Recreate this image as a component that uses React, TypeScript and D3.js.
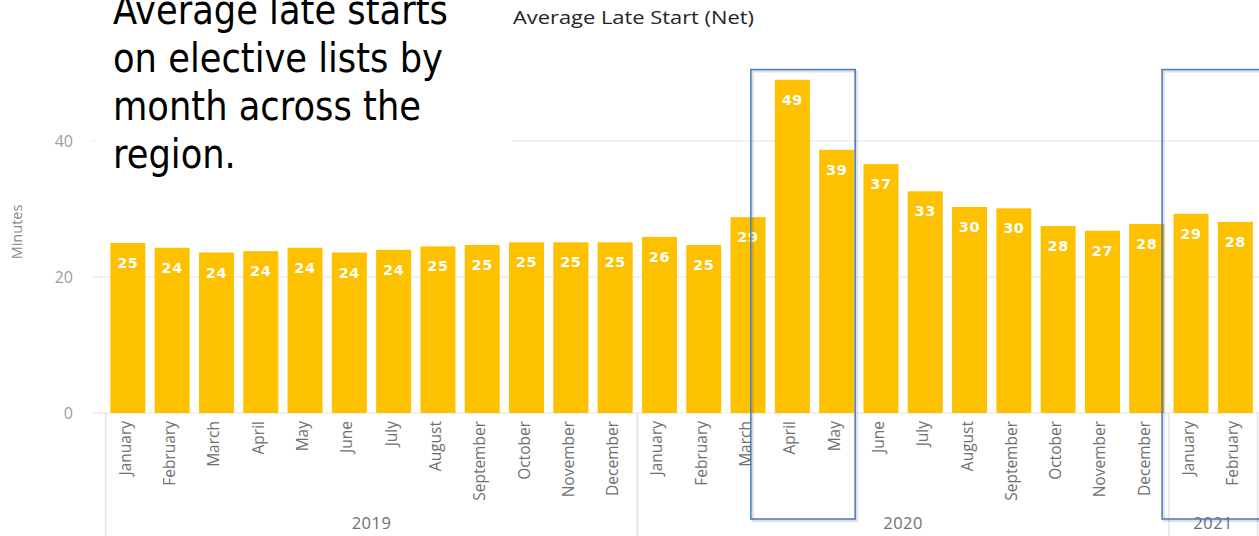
import React from "react";
import { scaleBand, scaleLinear, range } from "d3";

// month labels, one per bar
const months = [
  "January", "February", "March", "April", "May", "June",
  "July", "August", "September", "October", "November", "December",
  "January", "February", "March", "April", "May", "June",
  "July", "August", "September", "October", "November", "December",
  "January", "February",
];
const yearLabels = ["2019", "2020", "2021"];
const monthsPerYear = [12, 12, 2];

// average late start in minutes
const lateStart = [
  25.0, 24.3, 23.6, 23.8, 24.3, 23.6, 24.0, 24.5, 24.7, 25.1, 25.1, 25.1,
  25.9, 24.7, 28.8, 49.0, 38.7, 36.6, 32.6, 30.3, 30.1, 27.5, 26.8, 27.8,
  29.3, 28.1,
];
const yTicks = [0, 20, 40];

// highlighted months (index into the bars)
const highlights = [
  { from: 15, to: 16 },
  { from: 24, to: 26 },
];

const noteLines = [
  "Average late starts",
  "on elective lists by",
  "month across the",
  "region.",
];

const W = 1259;
const H = 536;
const font = "'Open Sans', 'DejaVu Sans', sans-serif";

export default function App() {
  const x = scaleBand<number>()
    .domain(range(lateStart.length))
    .range([105.7, 105.7 + 44.3 * lateStart.length])
    .paddingInner(0.21)
    .paddingOuter(0.105);
  const y = scaleLinear().domain([0, 40]).range([413, 141]);
  const bw = x.bandwidth();
  const step = x.step();

  // year group boundaries
  let acc = 0;
  const groups = yearLabels.map((year, i) => {
    const start = acc;
    acc += monthsPerYear[i];
    const x0 = x(start)! - (step - bw) / 2;
    const x1 = x(acc - 1)! + bw + (step - bw) / 2;
    return { year, x0, x1 };
  });

  return (
    <div style={{ position: "absolute", left: 0, top: 0 }}>
      <svg width={W} height={H} viewBox={`0 0 ${W} ${H}`} style={{ display: "block", background: "#fff" }}>
        {/* gridlines */}
        {yTicks.map((t) => (
          <line key={t} x1={92} x2={W} y1={y(t)} y2={y(t)} stroke="#e6e6e6" strokeWidth={1.2} />
        ))}
        {yTicks.map((t) => (
          <text key={"t" + t} x={73} y={y(t)} dy="0.35em" textAnchor="end" fontFamily={font} fontSize={16} fill="#9a9da3">
            {t}
          </text>
        ))}
        <text transform={`translate(22,232) rotate(-90)`} textAnchor="middle" fontFamily={font} fontSize={14.5} fill="#8a8a8a">
          Minutes
        </text>

        {/* bars */}
        {lateStart.map((v, i) => (
          <g key={i}>
            <rect x={x(i)} y={y(v)} width={bw} height={y(0) - y(v)} fill="#FDC100" />
            <text x={x(i)! + bw / 2} y={y(v) + 25} textAnchor="middle" fontFamily="'DejaVu Sans', sans-serif" fontWeight="bold" fontSize={14.5} fill="#fff" letterSpacing={0.6}>
              {Math.round(v)}
            </text>
          </g>
        ))}

        {/* month labels */}
        {months.map((m, i) => (
          <text key={"m" + i} transform={`translate(${x(i)! + bw / 2 + 3},421) rotate(-90)`} textAnchor="end" fontFamily={font} fontSize={15.5} fill="#707070">
            {m}
          </text>
        ))}

        {/* year groups */}
        {groups.map((g, i) => (
          <g key={g.year}>
            {i === 0 && <line x1={g.x0} x2={g.x0} y1={y(0)} y2={H} stroke="#e3e3e3" strokeWidth={1.5} />}
            <line x1={g.x1} x2={g.x1} y1={y(0)} y2={H} stroke="#e3e3e3" strokeWidth={1.5} />
            <text x={(g.x0 + g.x1) / 2} y={529} textAnchor="middle" fontFamily={font} fontSize={16.5} fill="#707070" letterSpacing={0.5}>
              {g.year}
            </text>
          </g>
        ))}

        {/* highlight boxes */}
        {highlights.map((h, i) => {
          const left = i === 0 ? x(h.from)! - 24 : x(h.from)! - 11.5;
          const right = h.to < lateStart.length ? x(h.to)! + bw + 1 : W + 10;
          const top = y(50.5);
          return (
            <g key={"h" + i}>
              <rect x={left + 2} y={top + 2} width={right - left} height={519 - top} fill="none" stroke="#000" strokeOpacity={0.12} strokeWidth={2} />
              <rect x={left} y={top} width={right - left} height={519 - top} fill="none" stroke="#4A7EBB" strokeWidth={1.6} />
            </g>
          );
        })}

        {/* title */}
        <text transform="translate(513,24) scale(1.25,1)" fontFamily={font} fontSize={17.5} fill="#252423">
          Average Late Start (Net)
        </text>

        {/* note box over the chart */}
        <rect x={95} y={0} width={417} height={178} fill="#fff" />
        {noteLines.map((l, i) => (
          <text key={"n" + i} transform={`translate(113,${24 + i * 48}) scale(1,1.18)`} fontFamily="'DejaVu Sans', sans-serif" fontSize={35.3} fill="#000">
            {l}
          </text>
        ))}
      </svg>
    </div>
  );
}
